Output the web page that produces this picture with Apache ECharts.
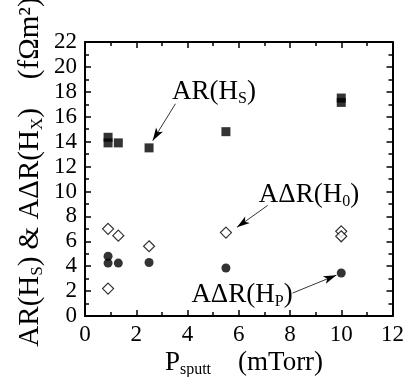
<!DOCTYPE html>
<html>
<head>
<meta charset="utf-8">
<script src="https://cdn.jsdelivr.net/npm/echarts@6/dist/echarts.min.js"></script>
<style>
html,body{margin:0;padding:0;background:#fff;}
#c{width:407px;height:377px;}
</style>
</head>
<body>
<div id="c"></div>
<script>
// Data
const xTicks = [0, 2, 4, 6, 8, 10, 12];
const yTicks = [0, 2, 4, 6, 8, 10, 12, 14, 16, 18, 20, 22];
const arX = [0.9, 0.9, 1.3, 2.5, 5.5, 10, 10];
const arY = [14.35, 13.9, 13.9, 13.5, 14.8, 17.5, 17.15];
const h0X = [0.9, 0.9, 1.3, 2.5, 5.5, 10, 10];
const h0Y = [7.0, 2.2, 6.45, 5.6, 6.7, 6.8, 6.4];
const hpX = [0.9, 0.9, 1.3, 2.5, 5.5, 10];
const hpY = [4.8, 4.25, 4.25, 4.3, 3.85, 3.45];
// annotation arrows (data coordinates: from, to)
const arrowAR = [[3.53, 17.04], [2.64, 14.08]];
const arrowH0 = [[7.13, 8.88], [5.93, 7.12]];
const arrowHP = [[8.10, 1.84], [9.81, 3.28]];

const FONT = '"Liberation Serif", "DejaVu Serif", serif';
const zip = (xs, ys) => xs.map((x, i) => [x, ys[i]]);

const chart = echarts.init(document.getElementById('c'), null, {renderer: 'canvas'});

function axisCommon(show) {
  return {
    type: 'value',
    axisLine: {show: true, onZero: false, lineStyle: {color: '#000', width: 2}},
    axisTick: {show: true, inside: true, length: 6, lineStyle: {color: '#000', width: 1.5}},
    minorTick: {show: true, splitNumber: 2, length: 4, lineStyle: {color: '#000', width: 1.5}},
    splitLine: {show: false},
    minorSplitLine: {show: false},
    axisLabel: {show: show, color: '#000', fontFamily: FONT, fontSize: 23},
  };
}

const xa = axisCommon(true);
const xb = axisCommon(false);
const ya = axisCommon(true);
const yb = axisCommon(false);

const arrowLine = (a) => ({
  silent: true,
  symbol: ['none', 'arrow'],
  symbolSize: [6, 13],
  lineStyle: {color: '#000', width: 0.8, type: 'solid'},
  label: {show: false},
  emphasis: {disabled: true},
  data: [[{coord: a[0]}, {coord: a[1]}]],
  animation: false
});

const rich = {
  n: {fontFamily: FONT, fontSize: 27, color: '#000', lineHeight: 30},
  s: {fontFamily: FONT, fontSize: 16, color: '#000', lineHeight: 12, verticalAlign: 'bottom'},
  y: {fontFamily: FONT, fontSize: 29, color: '#000', lineHeight: 32},
  ys: {fontFamily: FONT, fontSize: 17, color: '#000', lineHeight: 13, verticalAlign: 'bottom'}
};

chart.setOption({
  animation: false,
  backgroundColor: '#fff',
  grid: {left: 85, right: 12, top: 42, bottom: 61},
  xAxis: [
    Object.assign({}, xa, {min: 0, max: 12, interval: 2, position: 'bottom', axisLabel: Object.assign({}, xa.axisLabel, {margin: 7})}),
    Object.assign({}, xb, {min: 0, max: 12, interval: 2, position: 'top'})
  ],
  yAxis: [
    Object.assign({}, ya, {min: 0, max: 22, interval: 2, position: 'left', axisLabel: Object.assign({}, ya.axisLabel, {margin: 8})}),
    Object.assign({}, yb, {min: 0, max: 22, interval: 2, position: 'right'})
  ],
  series: [
    {
      type: 'scatter', name: 'AR(Hs)', data: zip(arX, arY),
      symbol: 'rect', symbolSize: 9,
      itemStyle: {color: '#000'},
      markLine: arrowLine(arrowAR)
    },
    {
      type: 'scatter', name: 'AdR(H0)', data: zip(h0X, h0Y),
      symbol: 'diamond', symbolSize: [11, 11],
      itemStyle: {color: '#fff', borderColor: '#000', borderWidth: 1.2},
      markLine: arrowLine(arrowH0)
    },
    {
      type: 'scatter', name: 'AdR(HP)', data: zip(hpX, hpY),
      symbol: 'circle', symbolSize: 9,
      itemStyle: {color: '#000'},
      markLine: arrowLine(arrowHP)
    }
  ],
  graphic: [
    {type: 'text', x: 214, y: 92, style: {text: '{n|AR(H}{s|S}{n|)}', rich: rich, align: 'center', verticalAlign: 'middle'}},
    {type: 'text', x: 309, y: 195, style: {text: '{n|AΔR(H}{s|0}{n|)}', rich: rich, align: 'center', verticalAlign: 'middle'}},
    {type: 'text', x: 242, y: 295, style: {text: '{n|AΔR(H}{s|P}{n|)}', rich: rich, align: 'center', verticalAlign: 'middle'}},
    {type: 'text', x: 244, y: 363, style: {text: '{n|P}{s|sputt}{n|    (mTorr)}', rich: rich, align: 'center', verticalAlign: 'middle'}},
    {type: 'text', x: 30, y: 172, rotation: Math.PI / 2, style: {text: '{y|AR(H}{ys|S}{y|) & AΔR(H}{ys|X}{y|)    (fΩm²)}', rich: rich, align: 'center', verticalAlign: 'middle'}}
  ]
});
</script>
</body>
</html>
